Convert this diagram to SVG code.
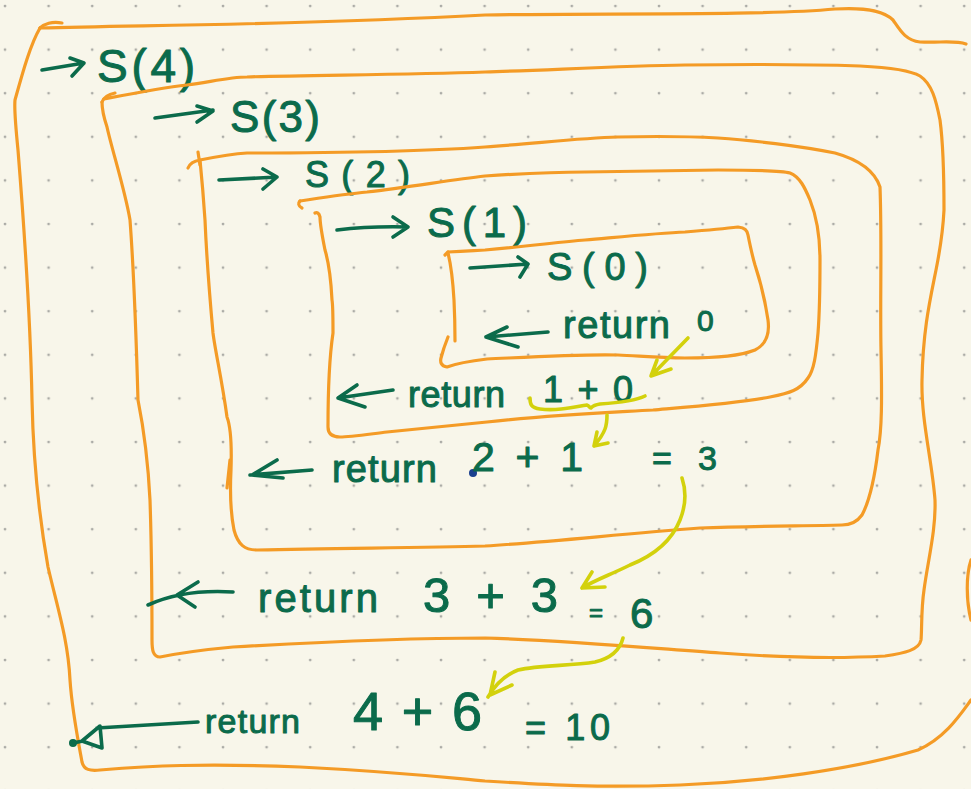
<svg xmlns="http://www.w3.org/2000/svg" width="971" height="789" viewBox="0 0 971 789">
<style>
.box{fill:none;stroke:#F49B26;stroke-width:3.2;stroke-linecap:round;stroke-linejoin:round}
.ink{fill:none;stroke:#0B6B4B;stroke-width:3.6;stroke-linecap:round;stroke-linejoin:round}
.hl{fill:none;stroke:#D3D10C;stroke-width:3.6;stroke-linecap:round;stroke-linejoin:round}
text{font-family:"Liberation Sans","DejaVu Sans",sans-serif;fill:#0B6B4B;stroke:#0B6B4B;stroke-width:1;stroke-linejoin:round}
</style>
<defs>
<pattern id="dots" patternUnits="userSpaceOnUse" width="43.6" height="43.6">
<circle cx="5" cy="6" r="1.4" fill="#ABABA6"/>
</pattern>
</defs>
<rect width="971" height="789" fill="#F8F6EA"/>
<rect width="971" height="789" fill="url(#dots)"/>

<g id="call-s4">
<path class="box" d="M62,23 C52,21 44,24 40,28"/>
<path class="box" d="M40,28 C150,25 300,25 485,15 C600,13 760,16 835,9 C870,7 885,12 893,20 C900,30 905,40 920,42 C940,43 955,40 966,44"/>
<path class="box" d="M40,28 C30,45 22,75 15,100 C14,110 16,130 18,150 C22,200 30,300 32,400 C33,450 38,510 48,567 C58,610 68,640 70,680 C72,710 78,740 82,762 C84,770 90,771 100,770 C150,766 200,763 300,767 C400,772 450,778 485,781 C550,785 600,788 680,785 C760,782 850,770 918,750 C945,738 960,715 971,700"/>
<path class="box" d="M971,560 C966,575 966,600 971,620"/>
<path class="ink" d="M42,70 L84,63 M70,58 L84,63 L72,76"/>
<text x="97" y="82" font-size="46" textLength="98">S(4)</text>
<path class="ink" d="M198,722 L97,728 M100,726 L82,741 L102,748 Z M73,743 L83,741"/>
<circle cx="73" cy="743" r="4" fill="#0B6B4B"/>
<text x="205" y="733" font-size="34" textLength="95">return</text>
<text x="353" y="730" font-size="54" textLength="129">4 + 6</text>
<text x="525" y="740" font-size="36" textLength="85">= 10</text>
</g>

<g id="call-s3">
<path class="box" d="M115,93 C110,94 104,97 102,102"/>
<path class="box" d="M104,99 C130,94 160,88 187,85 C210,82 230,77 247,77 C300,75 400,75 485,72 C550,70 620,66 685,65 C760,64 830,65 860,66 C880,67 910,70 920,76 C932,84 936,100 940,120 C944,150 944,180 944,210 C943,230 940,250 936,270 C930,300 923,330 922,380 C921,420 932,460 935,500 C936,530 928,560 924,590 C921,610 922,630 921,640 C919,650 905,653 885,656 C850,658 800,659 720,653 C650,648 560,640 485,638 C400,638 320,642 233,647 C200,650 170,655 160,657 C153,657 152,650 152,640 C152,600 152,560 150,500 C148,460 142,420 138,400 C136,330 133,260 130,220 C125,190 112,150 107,127 C103,115 102,108 102,102"/>
<path class="ink" d="M155,118 L213,110 M197,106 L213,111 L197,122"/>
<text x="230" y="132" font-size="44" textLength="90">S(3)</text>
<path class="ink" d="M233,592 C200,590 170,595 148,605 M198,582 L177,595 L195,607"/>
<text x="258" y="612" font-size="40" textLength="120">return</text>
<text x="423" y="612" font-size="49" textLength="135">3 + 3</text>
<text x="589" y="621" font-size="24">=</text>
<text x="630" y="628" font-size="42">6</text>
</g>

<g id="call-s2">
<path class="box" d="M198,152 L200,165 M188,168 C190,163 194,161 200,160"/>
<path class="box" d="M200,160 C215,157 230,154 247,153 C300,153 400,153 485,147 C540,143 580,138 618,137 C660,136 700,137 718,138 C750,140 800,146 835,153 C860,160 875,172 880,187 C882,240 880,300 881,350 C882,400 882,430 878,450 C875,475 870,500 862,515 C857,522 850,525 842,525 C800,526 752,526 700,528 C620,534 550,542 485,546 C420,548 340,548 257,550 C245,550 238,545 234,530 C230,510 230,490 231,470 C232,440 230,425 227,417 C222,380 215,350 213,333 C210,300 207,267 205,220 C203,190 201,170 200,160"/>
<path class="box" d="M230,460 L227,488"/>
<path class="ink" d="M219,180 L277,177 M263,169 L277,177 L263,189"/>
<text x="305" y="187" font-size="36" textLength="105">S(2)</text>
<path class="ink" d="M312,470 L250,475 M277,460 L252,475 L283,478"/>
<text x="332" y="482" font-size="38" textLength="105">return</text>
<circle cx="473" cy="473" r="4" fill="#1A3F8F"/>
<text x="472" y="471" font-size="41" textLength="111">2 + 1</text>
<text x="652" y="470" font-size="34" textLength="65">= 3</text>
</g>

<g id="call-s1">
<path class="box" d="M302,208 C298,206 298,203 300,201"/>
<path class="box" d="M300,201 C320,198 345,194 367,192 C410,187 450,180 485,176 C530,173 560,172 585,172 C650,171 700,170 718,170 C750,170 780,170 790,173 C800,177 805,188 810,200 C816,215 820,235 820,260 C820,290 819,320 818,333 C816,355 814,370 808,378 C800,390 790,393 770,397 C740,403 700,406 653,410 C600,413 550,415 487,422 C440,427 400,431 387,432 C370,434 350,437 340,437 C330,437 328,432 328,427 C328,400 329,360 333,333 C333,310 333,305 332,300 C331,280 328,260 325,250 C322,235 320,225 320,217 C319,213 317,212 315,213"/>
<path class="ink" d="M337,230 Q370,226 408,227 M393,217 L408,227 L393,237"/>
<text x="427" y="237" font-size="42" textLength="100">S(1)</text>
<path class="ink" d="M393,390 L338,398 M357,385 L338,398 L365,407"/>
<text x="408" y="407" font-size="36" textLength="97">return</text>
<text x="543" y="402" font-size="36" textLength="90">1 + 0</text>
</g>

<g id="call-s0">
<path class="box" d="M445,255 L448,252"/>
<path class="box" d="M448,252 C470,251 480,250 485,250 C530,246 560,242 585,240 C630,236 660,233 685,232 C710,230 730,228 738,227 C745,228 747,230 748,235 C750,245 752,255 755,265 C760,280 765,300 768,320 C770,335 765,345 755,350 C740,356 720,358 685,358 C660,358 640,356 618,355 C580,354 530,357 487,359 C470,361 455,364 447,367 C441,366 440,362 441,358 C443,350 446,342 448,337"/>
<path class="box" d="M448,253 C451,265 453,283 454,300 C455,320 455,330 455,341"/>
<path class="ink" d="M470,268 L528,264 M518,257 L528,264 L520,277"/>
<text x="547" y="280" font-size="38" textLength="101">S(0)</text>
<path class="ink" d="M548,332 L486,337 M507,327 L486,337 L518,347"/>
<text x="563" y="338" font-size="38" textLength="107">return</text>
<text x="697" y="331" font-size="30">0</text>
</g>

<g id="connectors">
<path class="hl" d="M688,338 L652,375 M657,360 L651,376 L671,369"/>
<path class="hl" d="M530,398 C530,404 531,408 540,409 C555,411 570,408 587,405 C589,406 590,408 591,408 C592,407 593,405 600,404 C615,403 635,401 645,396"/>
<path class="hl" d="M607,415 C607,425 606,432 594,446 M597,432 L594,446 L608,443"/>
<path class="hl" d="M682,478 C686,490 686,505 680,520 C672,540 655,555 630,565 C610,575 595,580 582,588 M592,572 L582,588 L605,587"/>
<path class="hl" d="M623,638 C620,650 612,658 595,662 C570,666 540,665 518,670 C505,675 495,685 488,697 M495,672 L490,695 L512,685"/>
</g>
</svg>
